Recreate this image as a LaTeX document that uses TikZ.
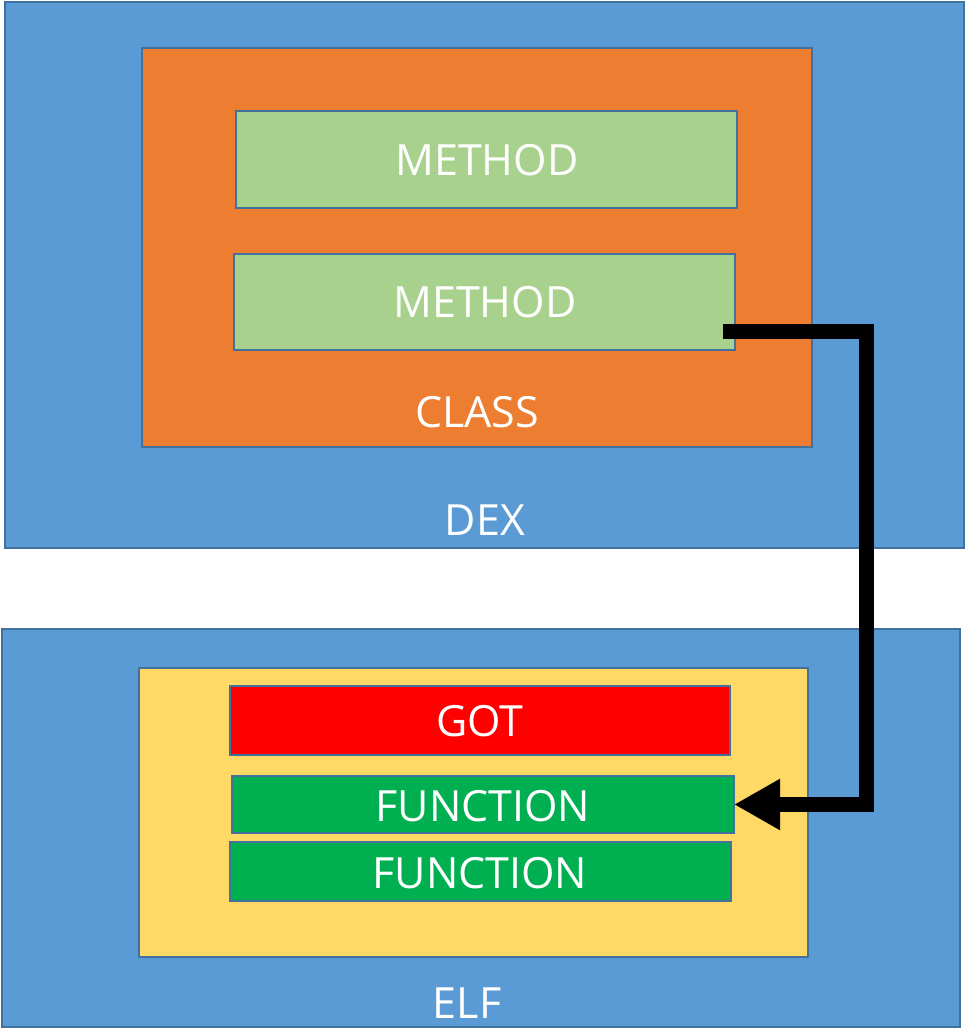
\documentclass[tikz,border=0pt]{standalone}
\usepackage{fontspec}
\setmainfont{Open Sans}
\usetikzlibrary{arrows.meta}
\definecolor{edge}{HTML}{41719C}
\definecolor{dexblue}{HTML}{5B9BD5}
\definecolor{classorange}{HTML}{ED7D31}
\definecolor{methodgreen}{HTML}{A9D18E}
\definecolor{elfyellow}{HTML}{FFD966}
\definecolor{gotred}{HTML}{FF0000}
\definecolor{fungreen}{HTML}{00B050}
\tikzset{
  box/.style={draw=edge, line width=2.5pt, anchor=north west, inner sep=0pt, outer sep=0pt},
  lbl/.style={text=white, font=\fontsize{43}{48}\selectfont, inner sep=0pt},
}
\begin{document}
\begin{tikzpicture}[x=1pt,y=-1pt]
\useasboundingbox (0,0) rectangle (966,1036);
% DEX
\node[box, fill=dexblue, minimum width=959pt, minimum height=546pt] (dex) at (5,2) {};
\node[lbl] (dexl) at (485,520) {DEX};
\node[box, fill=classorange, minimum width=670pt, minimum height=399pt] (class) at (142,48) {};
\node[lbl] (classl) at (477,412) {CLASS};
\node[box, fill=methodgreen, minimum width=501pt, minimum height=97pt] (m1) at (236,111) {};
\node[lbl] (m1l) at (487,160) {METHOD};
\node[box, fill=methodgreen, minimum width=501pt, minimum height=96pt] (m2) at (234,254) {};
\node[lbl] (m2l) at (485,302) {METHOD};
% ELF
\node[box, fill=dexblue, minimum width=958pt, minimum height=398pt] (elf) at (2,629) {};
\node[lbl] (elfl) at (467,1003) {ELF};
\node[box, fill=elfyellow, minimum width=669pt, minimum height=289pt] (so) at (139,668) {};
\node[box, fill=gotred, minimum width=500pt, minimum height=69pt] (got) at (230,686) {};
\node[lbl] (gotl) at (480,721) {GOT};
\node[box, fill=fungreen, minimum width=502pt, minimum height=57pt] (f1) at (232,776) {};
\node[lbl] (f1l) at (483,806) {FUNCTION};
\node[box, fill=fungreen, minimum width=501pt, minimum height=59pt] (f2) at (230,842) {};
\node[lbl] (f2l) at (480,873) {FUNCTION};
% arrow
\coordinate (s) at (723,331);
\coordinate (c) at (866,331);
\draw[line width=15pt, line join=miter, -{Triangle[length=46pt, width=48pt]}] (s) -- (c) |- (f1.east);
\end{tikzpicture}
\end{document}
